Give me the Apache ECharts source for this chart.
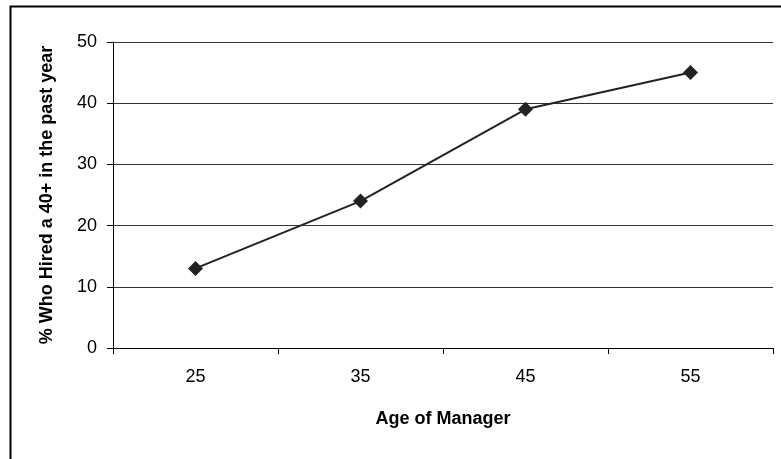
<!DOCTYPE html>
<html><head><meta charset="utf-8">
<script src="https://cdn.jsdelivr.net/npm/echarts@6/dist/echarts.min.js"></script>
<style>html,body{margin:0;padding:0;background:#fff}#c{width:781px;height:459px}</style>
</head><body><div id="c"></div>
<script>
const categories = ['25', '35', '45', '55'];
const hiredValues = [13, 24, 39, 45];
const yTicks = [0, 10, 20, 30, 40, 50];

const chart = echarts.init(document.getElementById('c'), null, {renderer: 'canvas'});
chart.setOption({
  animation: false,
  backgroundColor: '#fff',
  textStyle: {fontFamily: 'Liberation Sans, Arial, sans-serif'},
  graphic: [{
    type: 'rect', left: 8, top: 4, silent: true,
    shape: {width: 800, height: 500},
    style: {fill: 'none', stroke: '#000', lineWidth: 2}
  }],
  grid: {left: 113, right: 8, top: 42, bottom: 111},
  xAxis: {
    type: 'category', data: categories, boundaryGap: true,
    name: 'Age of Manager', nameLocation: 'middle', nameGap: 62,
    nameTextStyle: {fontSize: 18, fontWeight: 'bold', color: '#000'},
    axisLine: {lineStyle: {color: '#000', width: 1}},
    axisTick: {show: true, length: 6, alignWithLabel: false, lineStyle: {color: '#000'}},
    axisLabel: {fontSize: 18, color: '#000', margin: 20}
  },
  yAxis: {
    type: 'value', min: yTicks[0], max: yTicks[yTicks.length - 1], interval: 10,
    name: '% Who Hired a 40+ in the past year', nameLocation: 'middle', nameGap: 57,
    nameTextStyle: {fontSize: 18, fontWeight: 'bold', color: '#000'},
    axisLine: {show: true, lineStyle: {color: '#000', width: 1}},
    axisTick: {show: true, length: 6, lineStyle: {color: '#000'}},
    axisLabel: {fontSize: 18, color: '#000', margin: 16},
    splitLine: {show: true, lineStyle: {color: '#333', width: 1}}
  },
  series: [{
    type: 'line', data: hiredValues,
    symbol: 'diamond', symbolSize: 15,
    lineStyle: {color: '#222', width: 2},
    itemStyle: {color: '#222'}
  }]
});
</script></body></html>
